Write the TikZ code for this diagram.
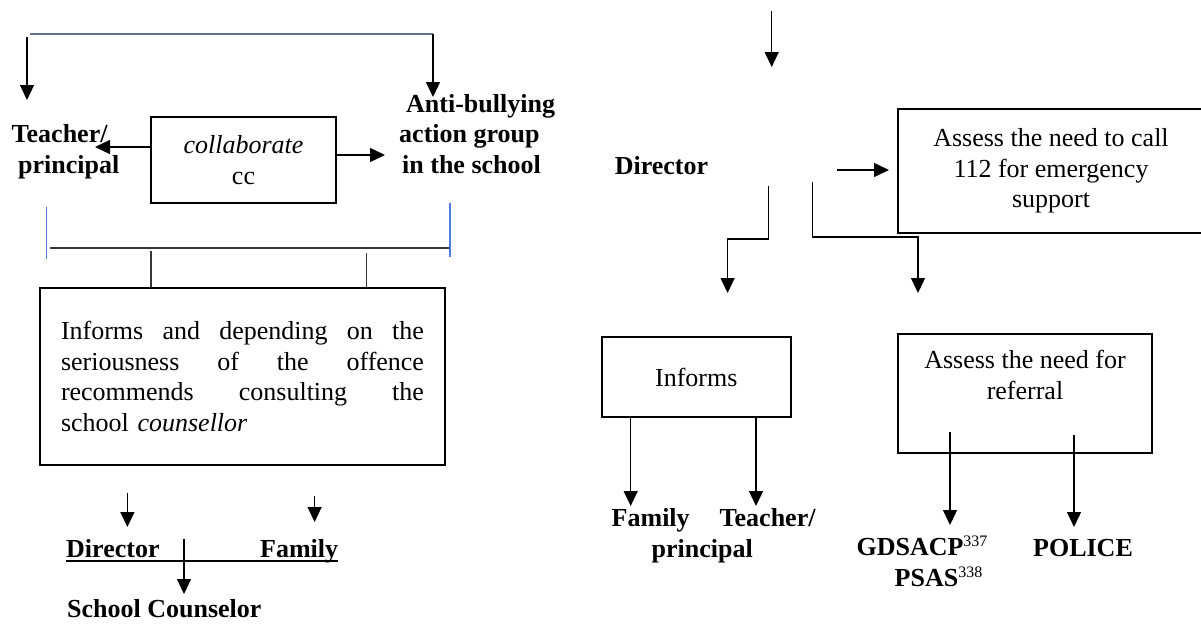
\documentclass[tikz,border=0pt]{standalone}
\usepackage{fontspec}
\setmainfont{Liberation Serif}
\usetikzlibrary{arrows.meta,calc}
\definecolor{slate}{RGB}{95,115,145}
\definecolor{blueln}{RGB}{80,125,220}
\definecolor{darkln}{RGB}{55,55,55}
\newcommand{\supnum}[1]{\raisebox{9pt}{\fontsize{16}{16}\selectfont\mdseries #1}}
\begin{document}
\begin{tikzpicture}[x=1pt,y=-1pt,
  font=\fontsize{26}{30.5}\selectfont,
  arr/.style={line width=1.3pt,-{Triangle[length=15pt,width=14pt]}},
  ln/.style={line width=1.4pt},
  box/.style={draw,line width=2pt,inner sep=0pt},
  lbl/.style={inner sep=0pt,font=\fontsize{26}{30.5}\selectfont\bfseries},
  txt/.style={inner sep=0pt}]
\clip (0,0) rectangle (1201,624);
\fill[white] (0,0) rectangle (1201,624);
% ---------- left part ----------
\coordinate (tl1) at (30,34);
\coordinate (tl2) at (433,34);
\draw[slate,line width=1.5pt] (tl1) -- (tl2);
\coordinate (la0) at (27,37);
\coordinate (la1) at (27,100);
\draw[arr] (la0) -- (la1);
\coordinate (ra1) at (433,97);
\draw[arr] (tl2) -- (ra1);
\node[lbl,align=left,anchor=base west] (tp) at (11.5,173) {Teacher/\\\hspace*{6.5pt}principal};
\node[box,minimum width=185pt,minimum height=86pt,align=center] (collab) at (243.5,160) {\textit{collaborate}\\cc};
\coordinate (tpA) at (95,147);
\draw[arr] (collab.west |- tpA) -- (tpA);
\coordinate (abA) at (385,155);
\draw[arr] (collab.east |- abA) -- (abA);
\node[lbl,align=left,anchor=base west] (ab) at (399,173) {\hspace*{7pt}Anti-bullying\\action group\\\hspace*{3pt}in the school};
\coordinate (bl1a) at (46.7,207);
\coordinate (bl1b) at (46.7,259);
\coordinate (bl2a) at (450,203);
\coordinate (bl2b) at (450,257);
\draw[blueln,line width=1.5pt] (bl1a) -- (bl1b);
\draw[blueln,line width=1.5pt] (bl2a) -- (bl2b);
\coordinate (h1) at (50,248);
\coordinate (h2) at (448.5,248);
\draw[darkln,ln] (h1) -- (h2);
\node[box,minimum width=405pt,minimum height=177pt,text width=363pt,align=left] (inf) at (242.5,376.5)
 {\makebox[363pt]{Informs\hfill and\hfill depending\hfill on\hfill the}\\
  \makebox[363pt]{seriousness\hfill of\hfill the\hfill offence}\\
  \makebox[363pt]{recommends\hfill consulting\hfill the}\\
  school \textit{counsellor}};
\coordinate (s1) at (151,251);
\coordinate (s2) at (366.6,253);
\draw[darkln,ln] (s1) -- (s1 |- inf.north);
\draw[darkln,ln] (s2) -- (s2 |- inf.north);
\coordinate (da0) at (127.4,493);
\coordinate (da1) at (127.4,527);
\draw[arr] (da0) -- (da1);
\coordinate (fa0) at (314.6,496);
\coordinate (fa1) at (314.6,522);
\draw[arr] (fa0) -- (fa1);
\node[lbl,anchor=base west] (dir1) at (66,557) {Director};
\node[lbl,anchor=base west] (fam1) at (260,557) {Family};
\draw[line width=1.5pt] ([yshift=-4pt]dir1.base west) -- ([yshift=-4pt]fam1.base east);
\coordinate (ca0) at (184,539);
\coordinate (ca1) at (184,594);
\draw[arr] (ca0) -- (ca1);
\node[lbl,anchor=base west] (sc) at (67,617) {School Counselor};
% ---------- right part ----------
\coordinate (ta0) at (771.7,11);
\coordinate (ta1) at (771.7,67);
\draw[arr] (ta0) -- (ta1);
\node[lbl,anchor=base west] (dir2) at (614.6,174) {Director};
\node[box,minimum width=306pt,minimum height=124pt,align=center] (emg) at (1051,171)
 {Assess the need to call\\112 for emergency\\support};
\coordinate (ea0) at (837,170);
\coordinate (ea1) at (889,170);
\draw[arr] (ea0) -- (ea1);
\coordinate (b1) at (768.6,186);
\coordinate (b1m) at (727.6,239);
\coordinate (b1e) at (727.6,293);
\draw[arr] (b1) |- (b1m) -- (b1e);
\coordinate (b2) at (812.7,182);
\coordinate (b2m) at (918,237);
\coordinate (b2e) at (918,293);
\draw[arr] (b2) |- (b2m) -- (b2e);
\node[box,minimum width=188.5pt,minimum height=80pt] (infm) at (696.3,377) {Informs};
\coordinate (ia1) at (630.7,506);
\coordinate (ia2) at (756,506);
\draw[arr] (infm.south -| ia1) -- (ia1);
\draw[arr] (infm.south -| ia2) -- (ia2);
\node[lbl,align=left,anchor=base west] (ft) at (611.5,557) {Family\hspace{30pt}Teacher/\\\hspace*{40pt}principal};
\node[box,minimum width=254pt,minimum height=119pt] (refb) at (1025,393.5) {};
\node[txt,align=center,anchor=base] (reft) at (1025,399) {Assess the need for\\referral};
\coordinate (rA0) at (950,432);
\coordinate (rA1) at (950,525);
\coordinate (rB0) at (1074,435);
\coordinate (rB1) at (1074,527);
\draw[arr] (rA0) -- (rA1);
\draw[arr] (rB0) -- (rB1);
\node[lbl,align=center,anchor=base] (gd) at (922,586) {GDSACP\supnum{337}\\\hspace*{33pt}PSAS\supnum{338}};
\node[lbl,anchor=base] (pol) at (1083,556) {POLICE};
\end{tikzpicture}
\end{document}
